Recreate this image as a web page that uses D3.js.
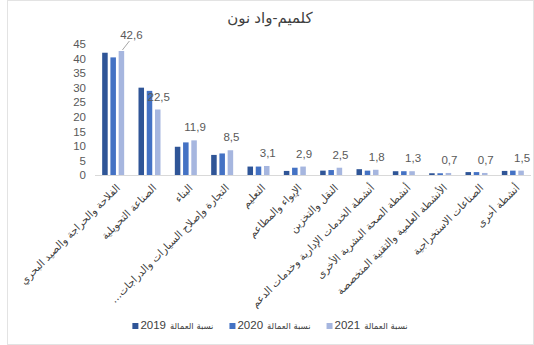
<!DOCTYPE html>
<html lang="ar">
<head>
<meta charset="utf-8">
<script src="https://cdn.jsdelivr.net/npm/d3@7"></script>
<style>
  html, body { margin: 0; padding: 0; background: #fff; }
  svg { display: block; font-family: "Liberation Sans", "DejaVu Sans", Arial, sans-serif; }
</style>
</head>
<body>
<svg id="chart" width="534" height="345"></svg>
<script>
// Sector employment shares, Guelmim-Oued Noun region
const title = "كلميم-واد نون";
const categories = [
  "الفلاحة والحراجة والصيد البحري",
  "الصناعة التحويلية",
  "البناء",
  "التجارة وإصلاح السيارات والدراجات…",
  "التعليم",
  "الإيواء والمطاعم",
  "النقل والتخزين",
  "أنشطة الخدمات الإدارية وخدمات الدعم",
  "أنشطة الصحة البشرية الأخرى",
  "الأنشطة العلمية والتقنية المتخصصة",
  "الصناعات الاستخراجية",
  "أنشطة أخرى"
];
const seriesYears = ["2019", "2020", "2021"];
const seriesPrefix = "نسبة العمالة";
const values2019 = [42.0, 30.0, 9.7, 6.9, 2.9, 1.4, 1.5, 2.0, 1.3, 0.6, 1.0, 1.4];
const values2020 = [40.4, 28.9, 11.2, 7.4, 2.9, 2.5, 1.7, 1.5, 1.3, 0.6, 1.0, 1.5];
const values2021 = [42.6, 22.5, 11.9, 8.5, 3.1, 2.9, 2.5, 1.8, 1.3, 0.7, 0.7, 1.5];
const yTicks = [0, 5, 10, 15, 20, 25, 30, 35, 40, 45];
const colors = ["#2f5597", "#4472c4", "#a6b6df"];

const seriesValues = [values2019, values2020, values2021];
const svg = d3.select("#chart");

// outer frame
svg.append("rect")
  .attr("x", 7.5).attr("y", 0.5).attr("width", 526).attr("height", 344)
  .attr("fill", "none").attr("stroke", "#e3e3e3");

svg.append("text")
  .attr("x", 270).attr("y", 23)
  .attr("text-anchor", "middle")
  .attr("font-size", 15).attr("fill", "#404040")
  .text(title);

const x = d3.scaleBand().domain(d3.range(categories.length)).range([95, 531]).padding(0);
const xSub = d3.scaleBand().domain(d3.range(seriesYears.length)).range([-11, 11]).paddingInner(0.33);
const y = d3.scaleLinear().domain([0, 45]).range([175, 44]);

// y axis labels only (no domain line, no grid)
const yAxis = svg.append("g")
  .attr("transform", "translate(86,0)")
  .call(d3.axisLeft(y).tickValues(yTicks).tickSize(0).tickPadding(0));
yAxis.select(".domain").remove();
yAxis.selectAll("text").attr("font-size", 11.5).attr("fill", "#595959")
  .attr("font-family", "\"Liberation Sans\", Arial, sans-serif");

// bars
const groups = svg.append("g").selectAll("g")
  .data(categories.map((c, i) => i))
  .join("g")
  .attr("transform", i => `translate(${x(i) + x.bandwidth() / 2},0)`);

groups.selectAll("rect")
  .data(i => seriesValues.map((vals, s) => ({ s, v: vals[i] })))
  .join("rect")
  .attr("x", d => xSub(d.s))
  .attr("width", xSub.bandwidth())
  .attr("y", d => y(d.v))
  .attr("height", d => y(0) - y(d.v))
  .attr("fill", d => colors[d.s]);

// x axis line
svg.append("line")
  .attr("x1", 95).attr("x2", 531).attr("y1", 175.5).attr("y2", 175.5)
  .attr("stroke", "#d9d9d9").attr("stroke-width", 1);

// data labels for 2021
const fmt = v => d3.format(".1f")(v).replace(".", ",");
values2021.forEach((v, i) => {
  const bx = x(i) + x.bandwidth() / 2 + xSub(2) + xSub.bandwidth() / 2;
  const top = y(v);
  let lx = bx + 1, ly = Math.min(top - 9, 164);
  if (i === 0) {
    lx = bx + 10; ly = 39;
    svg.append("line")
      .attr("x1", bx + 1).attr("y1", top - 1)
      .attr("x2", bx + 8).attr("y2", ly + 2)
      .attr("stroke", "#a6a6a6").attr("stroke-width", 1);
  }
  svg.append("text")
    .attr("x", lx).attr("y", ly)
    .attr("text-anchor", "middle")
    .attr("font-size", 11.5).attr("fill", "#595959")
    .attr("font-family", "\"Liberation Sans\", Arial, sans-serif")
    .text(fmt(v));
});

// category labels rotated, right-to-left
svg.append("g").selectAll("text")
  .data(categories)
  .join("text")
  .attr("transform", (d, i) => `translate(${x(i) + x.bandwidth() / 2 + 5},186) rotate(-45)`)
  .attr("direction", "rtl")
  .attr("text-anchor", "start")
  .attr("dy", "0.35em")
  .attr("font-size", 10.4).attr("fill", "#404040")
  .attr("font-family", "\"DejaVu Sans\", sans-serif")
  .text(d => d);

// legend
const legend = svg.append("g");
let cursor = 0;
seriesYears.forEach((yr, s) => {
  const g = legend.append("g");
  g.append("rect").attr("x", 0).attr("y", -6).attr("width", 6).attr("height", 6).attr("fill", colors[s]);
  const t1 = g.append("text").attr("x", 8).attr("y", 0)
    .attr("font-size", 11.5).attr("fill", "#404040")
    .attr("font-family", "\"Liberation Sans\", Arial, sans-serif")
    .text(yr);
  const w1 = t1.node().getComputedTextLength();
  const t2 = g.append("text").attr("x", 8 + w1 + 4).attr("y", 0)
    .attr("font-size", 8.5).attr("fill", "#404040")
    .attr("font-family", "\"DejaVu Sans\", sans-serif")
    .text(seriesPrefix);
  const w2 = t2.node().getComputedTextLength();
  g.attr("transform", `translate(${cursor},0)`);
  cursor += 8 + w1 + 4 + w2 + 16;
});
const totalW = cursor - 16;
legend.attr("transform", `translate(${270 - totalW / 2},329)`);
</script>
</body>
</html>
